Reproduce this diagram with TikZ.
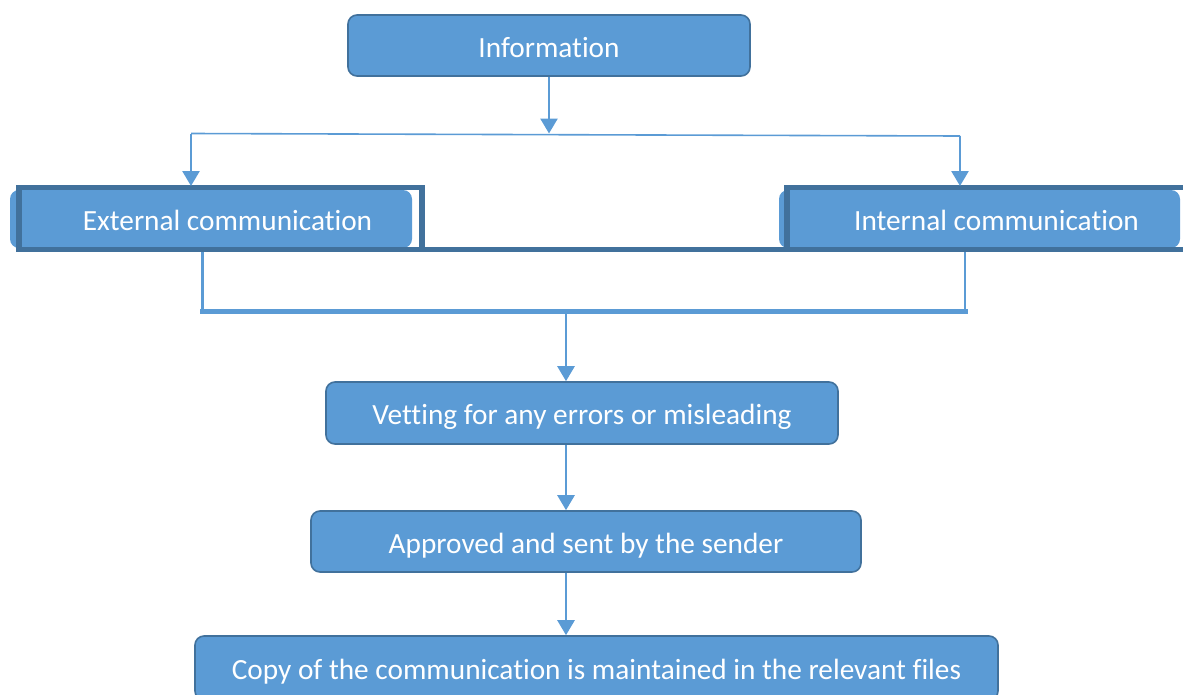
\documentclass[tikz,border=0pt]{standalone}
\usepackage{fontspec}
\setmainfont[Ligatures=NoCommon]{Carlito}
\usetikzlibrary{arrows.meta}
\definecolor{boxblue}{HTML}{5B9BD5}
\definecolor{boxedge}{HTML}{41719C}
\tikzset{
  stepbox/.style={rectangle, rounded corners=9pt, fill=boxblue, draw=boxedge, line width=1.6pt,
    text=white, font=\fontsize{29.3}{34}\selectfont, inner sep=0pt, text height=23.5pt, text depth=0pt},
  link/.style={draw=boxblue, line width=2.6pt},
  arrow/.style={link, -{Triangle[width=17pt,length=15pt]}}
}
\begin{document}
\begin{tikzpicture}[x=1pt,y=-1pt]
            \useasboundingbox (0,0) rectangle (1183,694);
            \node [stepbox, minimum width=402pt, minimum height=61pt] (info) at (549,45.5) {Information};
            \node [stepbox, draw=none, minimum width=402pt, minimum height=58pt] (ext) at (211,219) {\hspace*{33pt}External communication};
            \node [stepbox, draw=none, minimum width=401pt, minimum height=58pt] (int) at (979.5,219) {\hspace*{34pt}Internal communication};
            \node [stepbox, minimum width=512pt, minimum height=62pt] (vet) at (582,413) {Vetting for any errors or misleading};
            \node [stepbox, minimum width=550pt, minimum height=61pt] (appr) at (586,541.5) {Approved and sent by the sender};
            \node [stepbox, minimum width=803pt, minimum height=64pt] (copy) at (596.5,668) {Copy of the communication is maintained in the relevant files};
            % dark frames round the two middle boxes
            \draw [boxedge, line width=5.5pt] (422,187.5) -- (19,187.5) -- (19,249.5) -- (1190,249.5);
            \draw [boxedge, line width=5.5pt] (422,185) -- (422,249.5);
            \draw [boxedge, line width=5.5pt] (787,249.5) -- (787,187.5) -- (1190,187.5);
            % connectors
            \coordinate (split) at (549,133.5);
            \coordinate (join) at (566,311);
            \path [arrow] (info.south) -- (split);
            \path [draw=boxblue, line width=1.6pt] (191,133.5) -- (960,136);
            \path [arrow] (191,133.5) -- (191,186);
            \path [arrow] (960,136) -- (960,186);
            \path [link] (202.5,252) |- (join);
            \path [link] (965,252) |- (join);
            \path [draw=boxblue, line width=5pt] (200,311) -- (967.5,311);
            \path [arrow] (join) -- (vet.north -| join);
            \path [arrow] (vet.south -| join) -- (appr.north -| join);
            \path [arrow] (appr.south -| join) -- (copy.north -| join);
        \end{tikzpicture}
\end{document}
